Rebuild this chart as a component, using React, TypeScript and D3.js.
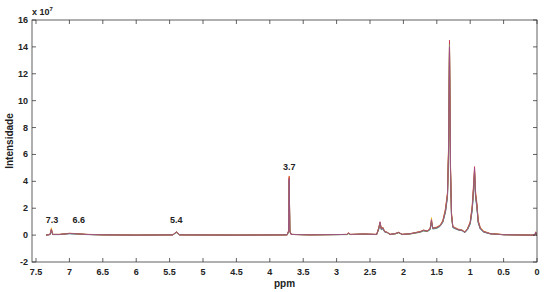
import * as d3 from "d3";
import React from "react";

// chemical shift grid (ppm), shared by all spectra
const ppm = [
  7.35, 7.29, 7.27, 7.25, 7.15, 7.0, 6.9, 6.75, 6.5, 6.0,
  5.45, 5.4, 5.35, 4.5, 3.74, 3.72, 3.71, 3.7, 3.68, 3.4,
  2.85, 2.82, 2.79, 2.6, 2.4, 2.37, 2.35, 2.33, 2.31, 2.28,
  2.24, 2.2, 2.12, 2.07, 2.02, 1.9, 1.75, 1.7, 1.64, 1.6,
  1.58, 1.56, 1.5, 1.45, 1.41, 1.37, 1.34, 1.325, 1.31, 1.295,
  1.28, 1.26, 1.22, 1.18, 1.12, 1.08, 1.04, 1.0, 0.97, 0.95,
  0.935, 0.92, 0.9, 0.88, 0.85, 0.8, 0.7, 0.5, 0.1, 0.03,
  0.02, 0.01, 0.0,
];

// intensities (x 10^7), one array per sample
const s1 = [
  0, 0.04, 0.3, 0.04, 0.04, 0.1, 0.08, 0.04, 0.02, 0,
  0.02, 0.2, 0.02, 0, 0.02, 0.25, 4.0, 0.25, 0.05, 0.02,
  0.04, 0.12, 0.04, 0.07, 0.04, 0.4, 0.8, 0.4, 0.45, 0.22,
  0.18, 0.05, 0.1, 0.18, 0.05, 0.09, 0.22, 0.3, 0.28, 0.4,
  0.9, 0.45, 0.5, 0.65, 0.95, 1.7, 2.8, 5.6, 13.6, 4.6,
  1.4, 0.55, 0.45, 0.38, 0.32, 0.18, 0.4, 0.8, 1.8, 3.2,
  4.4, 2.8, 2.0, 0.9, 0.45, 0.22, 0.09, 0.03, 0, 0,
  0.2, 0, 0,
];
const s2 = [
  0, 0.06, 0.55, 0.06, 0.05, 0.13, 0.1, 0.05, 0.02, 0,
  0.02, 0.22, 0.02, 0, 0.02, 0.28, 4.2, 0.28, 0.05, 0.02,
  0.05, 0.14, 0.05, 0.08, 0.05, 0.55, 0.95, 0.5, 0.6, 0.28,
  0.2, 0.06, 0.12, 0.2, 0.06, 0.1, 0.25, 0.36, 0.3, 0.48,
  1.3, 0.52, 0.58, 0.72, 1.05, 1.9, 3.1, 6.2, 14.3, 5.1,
  1.6, 0.62, 0.52, 0.42, 0.36, 0.22, 0.48, 0.95, 2.1, 3.6,
  4.9, 3.1, 2.3, 1.05, 0.55, 0.28, 0.11, 0.04, 0, 0,
  0.25, 0, 0,
];
const s3 = [
  0, 0.05, 0.4, 0.05, 0.05, 0.12, 0.1, 0.05, 0.02, 0,
  0.02, 0.25, 0.02, 0, 0.02, 0.3, 4.3, 0.3, 0.05, 0.02,
  0.05, 0.15, 0.05, 0.08, 0.05, 0.5, 1.0, 0.45, 0.55, 0.25,
  0.2, 0.05, 0.1, 0.2, 0.05, 0.1, 0.25, 0.35, 0.3, 0.45,
  1.1, 0.5, 0.55, 0.7, 1.0, 1.8, 3.0, 6.0, 14.5, 5.0,
  1.5, 0.6, 0.5, 0.4, 0.35, 0.2, 0.45, 0.9, 2.0, 3.5,
  5.1, 3.0, 2.2, 1.0, 0.5, 0.25, 0.1, 0.03, 0, 0,
  0.22, 0, 0,
];
const s4 = [
  0, 0.05, 0.35, 0.05, 0.05, 0.11, 0.09, 0.05, 0.02, 0,
  0.02, 0.18, 0.02, 0, 0.02, 0.26, 3.9, 0.26, 0.05, 0.02,
  0.04, 0.1, 0.04, 0.06, 0.04, 0.45, 0.85, 0.42, 0.5, 0.24,
  0.16, 0.04, 0.09, 0.16, 0.04, 0.08, 0.2, 0.32, 0.26, 0.42,
  1.0, 0.48, 0.52, 0.68, 0.98, 1.75, 2.9, 5.8, 13.9, 4.8,
  1.45, 0.58, 0.48, 0.4, 0.34, 0.2, 0.42, 0.85, 1.9, 3.3,
  4.6, 2.9, 2.1, 0.95, 0.48, 0.24, 0.1, 0.03, 0, 0,
  0.18, 0, 0,
];
const s5 = [
  0, 0.05, 0.45, 0.05, 0.05, 0.14, 0.11, 0.06, 0.03, 0,
  0.02, 0.24, 0.02, 0, 0.02, 0.3, 4.4, 0.3, 0.06, 0.02,
  0.05, 0.16, 0.05, 0.09, 0.05, 0.5, 0.9, 0.48, 0.58, 0.27,
  0.21, 0.06, 0.13, 0.21, 0.06, 0.11, 0.27, 0.38, 0.32, 0.5,
  0.95, 0.55, 0.6, 0.75, 1.1, 2.0, 3.2, 6.4, 14.1, 5.3,
  1.7, 0.65, 0.55, 0.45, 0.38, 0.24, 0.5, 1.0, 2.2, 3.8,
  4.8, 3.3, 2.4, 1.1, 0.58, 0.3, 0.12, 0.04, 0, 0,
  0.24, 0, 0,
];
const s6 = [
  0, 0.04, 0.38, 0.04, 0.04, 0.12, 0.1, 0.05, 0.02, 0,
  0.02, 0.22, 0.02, 0, 0.02, 0.28, 4.1, 0.28, 0.05, 0.02,
  0.05, 0.13, 0.05, 0.08, 0.05, 0.48, 0.92, 0.46, 0.52, 0.26,
  0.2, 0.05, 0.12, 0.19, 0.05, 0.1, 0.24, 0.34, 0.29, 0.44,
  1.05, 0.5, 0.56, 0.7, 1.0, 1.85, 3.0, 6.1, 14.2, 4.9,
  1.55, 0.6, 0.5, 0.42, 0.35, 0.21, 0.46, 0.9, 2.0, 3.4,
  4.7, 3.0, 2.2, 1.0, 0.52, 0.26, 0.1, 0.03, 0, 0,
  0.2, 0, 0,
];
const s7 = [
  0, 0.05, 0.42, 0.05, 0.05, 0.12, 0.1, 0.05, 0.02, 0,
  0.02, 0.23, 0.02, 0, 0.02, 0.27, 4.2, 0.27, 0.05, 0.02,
  0.05, 0.14, 0.05, 0.08, 0.05, 0.5, 0.95, 0.44, 0.56, 0.25,
  0.19, 0.05, 0.11, 0.2, 0.05, 0.1, 0.24, 0.35, 0.3, 0.46,
  1.15, 0.5, 0.55, 0.7, 1.0, 1.8, 3.0, 5.9, 14.0, 5.0,
  1.5, 0.6, 0.5, 0.4, 0.35, 0.2, 0.45, 0.9, 2.0, 3.5,
  5.0, 3.0, 2.2, 1.0, 0.5, 0.25, 0.1, 0.03, 0, 0,
  0.22, 0, 0,
];

const spectra = [s1, s2, s3, s4, s5, s6, s7];
const colors = ["#0072BD", "#EDB120", "#C0304A", "#77AC30", "#D95319", "#8A8A6A", "#9E4A8E"];

const xTicks = [7.5, 7, 6.5, 6, 5.5, 5, 4.5, 4, 3.5, 3, 2.5, 2, 1.5, 1, 0.5, 0];
const yTicks = [-2, 0, 2, 4, 6, 8, 10, 12, 14, 16];

// peak annotations: label, ppm position, label height (x 10^7)
const peakLabels = ["7.3", "6.6", "5.4", "3.7"];
const peakPpm = [7.26, 6.86, 5.4, 3.71];
const peakTextY = [0.9, 0.9, 0.9, 4.85];

const width = 550;
const height = 292;
const left = 32;
const right = 537;
const top = 20;
const bottom = 262;

export default function App() {
  const x = d3.scaleLinear().domain([7.56, 0]).range([left, right]);
  const y = d3.scaleLinear().domain([-2, 16]).range([bottom, top]);

  const line = d3
    .line<number>()
    .x((d, i) => x(ppm[i]))
    .y((d) => y(d));

  const font = "Arial, 'Liberation Sans', sans-serif";
  const axisColor = "#3a3a3a";

  return (
    <svg
      width={width}
      height={height}
      style={{ position: "absolute", left: 0, top: 0, background: "#fff" }}
      fontFamily={font}
    >
      {spectra.map((s, i) => (
        <path key={i} d={line(s) || ""} fill="none" stroke={colors[i]} strokeWidth={0.9} strokeOpacity={0.85} />
      ))}

      {/* box */}
      <rect x={left} y={top} width={right - left} height={bottom - top} fill="none" stroke={axisColor} strokeWidth={0.8} />

      {xTicks.map((t) => (
        <g key={"x" + t}>
          <line x1={x(t)} x2={x(t)} y1={bottom} y2={bottom - 4} stroke={axisColor} strokeWidth={0.8} />
          <line x1={x(t)} x2={x(t)} y1={top} y2={top + 4} stroke={axisColor} strokeWidth={0.8} />
          <text x={x(t)} y={bottom + 13} textAnchor="middle" fontSize={9} fontWeight="bold" fill="#222">
            {t}
          </text>
        </g>
      ))}

      {yTicks.map((t) => (
        <g key={"y" + t}>
          <line x1={left} x2={left + 4} y1={y(t)} y2={y(t)} stroke={axisColor} strokeWidth={0.8} />
          <line x1={right} x2={right - 4} y1={y(t)} y2={y(t)} stroke={axisColor} strokeWidth={0.8} />
          <text x={left - 4} y={y(t) + 3} textAnchor="end" fontSize={9} fontWeight="bold" fill="#222">
            {t}
          </text>
        </g>
      ))}

      <text x={left} y={top - 5} fontSize={9} fontWeight="bold" fill="#222">
        x 10<tspan dy={-4} fontSize={6}>7</tspan>
      </text>

      {peakLabels.map((p, i) => (
        <text key={p} x={x(peakPpm[i])} y={y(peakTextY[i])} textAnchor="middle" fontSize={9} fontWeight="bold" fill="#222">
          {p}
        </text>
      ))}

      <text x={(left + right) / 2} y={287} textAnchor="middle" fontSize={10} fontWeight="bold" fill="#222">
        ppm
      </text>
      <text
        transform={`translate(13, ${(top + bottom) / 2}) rotate(-90)`}
        textAnchor="middle"
        fontSize={10}
        fontWeight="bold"
        fill="#222"
      >
        Intensidade
      </text>
    </svg>
  );
}
